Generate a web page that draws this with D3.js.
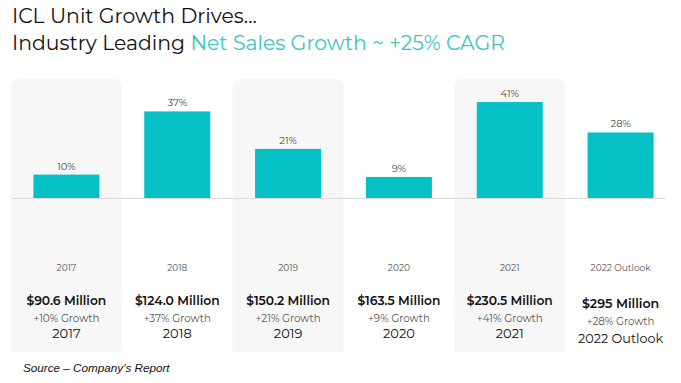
<!DOCTYPE html>
<html><head><meta charset="utf-8">
<script src="https://cdn.jsdelivr.net/npm/d3@7"></script>
<style>body{margin:0;background:#fff}svg{display:block}</style>
</head><body>
<svg id="c" width="681" height="383"></svg>
<script>
const categories = ["2017","2018","2019","2020","2021","2022 Outlook"];
const growthPct = [10,37,21,9,41,28];
const netSales = ["$90.6 Million","$124.0 Million","$150.2 Million","$163.5 Million","$230.5 Million","$295 Million"];
const growthLabels = ["+10% Growth","+37% Growth","+21% Growth","+9% Growth","+41% Growth","+28% Growth"];
const shaded = [true,false,true,false,true,false];

const svg = d3.select("#c");
const font = "Montserrat, 'Open Sans', sans-serif";
const x = d3.scaleBand().domain(categories).range([11, 676]).padding(0);
const y = d3.scaleLinear().domain([0, 45]).range([198, 198 - 45*2.34]);
const barW = 66;
const teal = "#05C1C6";

// title
const t = svg.append("g").attr("font-family", font).attr("font-size", 20.4).attr("fill", "#111");
t.append("text").attr("x", 12).attr("y", 23).text("ICL Unit Growth Drives...");
const t2 = t.append("text").attr("x", 12).attr("y", 50);
t2.append("tspan").text("Industry Leading ");
t2.append("tspan").attr("fill", "#3DC4C4").text("Net Sales Growth ~ +25% CAGR");

// panels
const data = categories.map((c,i)=>({c, g:growthPct[i], s:netSales[i], gl:growthLabels[i], sh:shaded[i], i}));
svg.append("g").selectAll("path").data(data.filter(d=>d.sh)).join("path")
  .attr("fill", "#F7F7F7")
  .attr("d", d => {
    const x0 = x(d.c), x1 = x0 + x.bandwidth(), y0 = 79, y1 = 352, r = 8;
    return `M${x0},${y1}V${y0+r}Q${x0},${y0} ${x0+r},${y0}H${x1-r}Q${x1},${y0} ${x1},${y0+r}V${y1}Z`;
  });

// baseline
svg.append("line").attr("x1", 11).attr("x2", 665).attr("y1", y(0)+0.5).attr("y2", y(0)+0.5)
  .attr("stroke", "#DADADA").attr("stroke-width", 1);

// bars
svg.append("g").selectAll("rect").data(data).join("rect")
  .attr("x", d => x(d.c) + x.bandwidth()/2 - barW/2)
  .attr("y", d => y(d.g))
  .attr("width", barW)
  .attr("height", d => y(0) - y(d.g))
  .attr("fill", teal);

// pct labels
svg.append("g").selectAll("text").data(data).join("text")
  .attr("x", d => x(d.c) + x.bandwidth()/2)
  .attr("y", d => y(d.g) - 5)
  .attr("text-anchor", "middle").attr("font-family", font).attr("font-size", 10).attr("fill", "#444")
  .text(d => d.g + "%");

const cx = d => x(d.c) + x.bandwidth()/2;
const last = d => d.i === categories.length - 1;
const tg = svg.append("g").attr("font-family", font).attr("text-anchor", "middle");
tg.selectAll(".yr").data(data).join("text").attr("class","yr")
  .attr("x", cx).attr("y", 270.5).attr("font-size", 9).attr("fill", "#555").text(d => d.c);
tg.selectAll(".sv").data(data).join("text").attr("class","sv")
  .attr("x", cx).attr("y", d => last(d) ? 308 : 305)
  .attr("font-size", d => last(d) ? 12.6 : 12.3).attr("font-weight", 600).attr("fill", "#111").text(d => d.s);
tg.selectAll(".gr").data(data).join("text").attr("class","gr")
  .attr("x", cx).attr("y", d => last(d) ? 324.5 : 321.5)
  .attr("font-size", 10.3).attr("fill", "#555").text(d => d.gl);
tg.selectAll(".yb").data(data).join("text").attr("class","yb")
  .attr("x", cx).attr("y", d => last(d) ? 343 : 338)
  .attr("font-size", d => last(d) ? 12.8 : 13).attr("font-weight", 400).attr("fill", "#111").text(d => d.c);

// source
svg.append("text").attr("x", 23).attr("y", 372).attr("font-family", "'Liberation Sans', Arial, sans-serif")
  .attr("font-style", "italic").attr("font-size", 11.7).attr("fill", "#111").text("Source \u2013 Company\u2019s Report");
</script>
</body></html>
